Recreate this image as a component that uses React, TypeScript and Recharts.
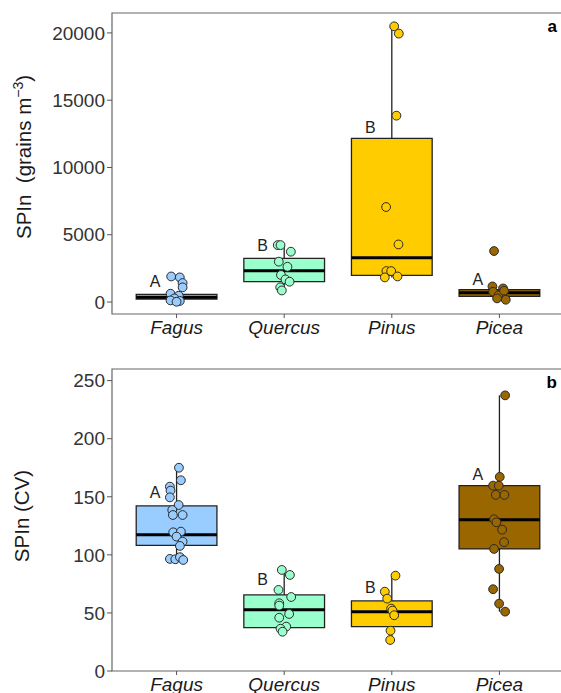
import { ComposedChart, XAxis, YAxis, Scatter, ReferenceArea, ReferenceLine, Label } from 'recharts';

const taxa = ['Fagus', 'Quercus', 'Pinus', 'Picea'];
const fills = ['#99CCFF', '#99FFCC', '#FFCC00', '#996600'];
const letters = ['A', 'B', 'B', 'A'];

// panel a: SPIn (grains m-3)
const conQ1 = [223, 1510, 1980, 420];
const conMed = [360, 2330, 3290, 690];
const conQ3 = [565, 3240, 12160, 915];
const conLo = [20, 860, 1830, 170];
const conHi = [565, 4230, 20490, 1160];
const conLetterY = [1490, 4210, 12980, 1710];
const conTicks = [0, 5000, 10000, 15000, 20000];
// [jitter, value]
const conFagus = [[-0.05, 1900], [0.03, 1830], [0.056, 1410], [0.056, 1090], [-0.056, 620], [0.02, 470], [-0.02, 270], [-0.056, 120], [0.03, 80], [0, 20]];
const conQuercus = [[-0.06, 4230], [-0.034, 4230], [0.062, 3740], [-0.05, 3000], [0.03, 2620], [-0.03, 2010], [0.012, 1680], [0.05, 1510], [-0.037, 1090], [-0.022, 860]];
const conPinus = [[0.022, 20490], [0.065, 19950], [0.043, 13850], [-0.053, 7060], [0.062, 4280], [-0.05, 2300], [-0.006, 2300], [-0.065, 1830], [0.053, 1900]];
const conPicea = [[-0.05, 3790], [-0.065, 1160], [0.034, 1010], [-0.059, 765], [0.019, 620], [-0.009, 490], [-0.022, 270], [0.059, 170], [0.043, 840]];

// panel b: SPIn (CV)
const cvQ1 = [108.2, 37.3, 38.2, 105.1];
const cvMed = [117.3, 52.8, 51.1, 130.3];
const cvQ3 = [142.1, 65.5, 60.3, 159.6];
const cvLo = [95.6, 33.8, 26.7, 51.1];
const cvHi = [175, 87, 82.1, 237.3];
const cvLetterY = [153.9, 78.4, 72.1, 169.4];
const cvTicks = [0, 50, 100, 150, 200, 250];
const cvFagus = [[0.022, 175], [0.04, 164.2], [-0.062, 158.7], [-0.056, 155.3], [-0.062, 149.5], [0.019, 142.9], [-0.04, 138.6], [0.056, 134.3], [-0.034, 134.3], [-0.031, 119.4], [0.04, 120], [0, 115.7], [0.056, 111.4], [0.031, 107.7], [-0.062, 96.5], [-0.012, 96.2], [0.031, 98], [0.062, 95.6]];
const cvQuercus = [[-0.022, 87], [0.053, 82.7], [-0.053, 69.8], [0.065, 63.7], [-0.046, 58.3], [-0.046, 56.3], [0.046, 49.1], [-0.046, 45.9], [0.019, 38.2], [-0.034, 36.4], [-0.015, 33.8]];
const cvPinus = [[0.034, 82.1], [-0.065, 68.3], [-0.043, 62.3], [-0.006, 53.7], [0.006, 52], [0.022, 48], [-0.012, 34.7], [-0.015, 26.7]];
const cvPicea = [[0.053, 237.3], [0.003, 167.1], [-0.059, 159.6], [-0.006, 159.6], [-0.034, 151.6], [0.046, 151.6], [-0.05, 130.6], [-0.028, 128], [0.025, 121.7], [0.043, 110.9], [-0.05, 105.1], [-0.003, 87.9], [-0.059, 70.4], [-0.003, 58], [0.053, 51.1]];

const HALF = 0.375;

const TitleA = () => (
  <text transform="translate(31,157) rotate(-90)" textAnchor="middle" fontSize={20.5} fill="#1a1a1a">
    <tspan>{'SPIn\u00A0\u00A0(grains m'}</tspan>
    <tspan fontSize={14} dy={-8}>−3</tspan>
    <tspan dy={8}>)</tspan>
  </text>
);

const TitleB = () => (
  <text transform="translate(29,171) rotate(-90)" textAnchor="middle" fontSize={20.5} fill="#1a1a1a">
    SPIn (CV)
  </text>
);

const Panel = ({ q1, med, q3, lo, hi, groups, letterY, ticks, domain, tag, title, height, margin, xHeight }: any) => {
  const letterData = letters.map((t, i) => ({ x: i + 1 - 0.2, y: letterY[i], t }));
  return (
    <ComposedChart width={570} height={height} margin={margin}>
      <XAxis
        type="number"
        dataKey="x"
        domain={[0.4, 4.6]}
        ticks={[1, 2, 3, 4]}
        allowDataOverflow
        height={xHeight}
        tickFormatter={(v: number) => taxa[v - 1]}
        axisLine={false}
        tickSize={4}
        tickMargin={3}
        tickLine={{ stroke: '#555' }}
        tick={{ fontSize: 19, fontStyle: 'italic', fill: '#1a1a1a' }}
      />
      <YAxis
        type="number"
        dataKey="y"
        domain={domain}
        ticks={ticks}
        allowDataOverflow
        width={112}
        axisLine={false}
        tickSize={5}
        tickMargin={2}
        tickLine={{ stroke: '#555' }}
        tick={{ fontSize: 19, fill: '#333' }}
        label={title}
      />
      <ReferenceArea x1={0.4} x2={4.6} y1={domain[0]} y2={domain[1]} fill="none" stroke="#666" strokeWidth={1.2} ifOverflow="visible">
        <Label value={tag} position="insideTopRight" offset={7} fontSize={17} fontWeight="bold" fill="#000" />
      </ReferenceArea>
      {taxa.map((t, i) => (
        <ReferenceLine key={'hi' + t} segment={[{ x: i + 1, y: q3[i] }, { x: i + 1, y: hi[i] }]} stroke="#222" strokeWidth={1.3} ifOverflow="visible" />
      ))}
      {taxa.map((t, i) => (
        <ReferenceLine key={'lo' + t} segment={[{ x: i + 1, y: q1[i] }, { x: i + 1, y: lo[i] }]} stroke="#222" strokeWidth={1.3} ifOverflow="visible" />
      ))}
      {taxa.map((t, i) => (
        <ReferenceArea key={'box' + t} x1={i + 1 - HALF} x2={i + 1 + HALF} y1={q1[i]} y2={q3[i]} fill={fills[i]} fillOpacity={1} stroke="#222" strokeWidth={1.3} ifOverflow="visible" />
      ))}
      {taxa.map((t, i) => (
        <ReferenceLine key={'med' + t} segment={[{ x: i + 1 - HALF, y: med[i] }, { x: i + 1 + HALF, y: med[i] }]} stroke="#000" strokeWidth={3} ifOverflow="visible" />
      ))}
      {groups.map((g: number[][], i: number) => (
        <Scatter
          key={'pts' + i}
          data={g.map(([dx, v]) => ({ x: i + 1 + dx, y: v }))}
          isAnimationActive={false}
          shape={(p: any) => <circle cx={p.cx} cy={p.cy} r={4.4} fill={fills[i]} stroke="#2a2a2a" strokeWidth={1} />}
        />
      ))}
      <Scatter
        data={letterData}
        isAnimationActive={false}
        shape={(p: any) => (
          <text x={p.cx} y={p.cy} textAnchor="middle" dominantBaseline="central" fontSize={16} fill="#222">
            {p.payload.t}
          </text>
        )}
      />
    </ComposedChart>
  );
};

export default function App() {
  return (
    <div style={{ width: 561, height: 693, overflow: 'hidden', background: '#fff', fontFamily: '"Liberation Sans", Arial, sans-serif' }}>
      <style>{'body{margin:0}'}</style>
      <Panel
        q1={conQ1} med={conMed} q3={conQ3} lo={conLo} hi={conHi}
        groups={[conFagus, conQuercus, conPinus, conPicea]}
        letterY={conLetterY} ticks={conTicks} domain={[-890, 21480]}
        tag="a" title={<TitleA />} height={345}
        margin={{ top: 13, right: 6, bottom: 1, left: 0 }} xHeight={30}
      />
      <Panel
        q1={cvQ1} med={cvMed} q3={cvQ3} lo={cvLo} hi={cvHi}
        groups={[cvFagus, cvQuercus, cvPinus, cvPicea]}
        letterY={cvLetterY} ticks={cvTicks} domain={[0, 260]}
        tag="b" title={<TitleB />} height={348}
        margin={{ top: 24, right: 6, bottom: 0, left: 0 }} xHeight={22}
      />
    </div>
  );
}
